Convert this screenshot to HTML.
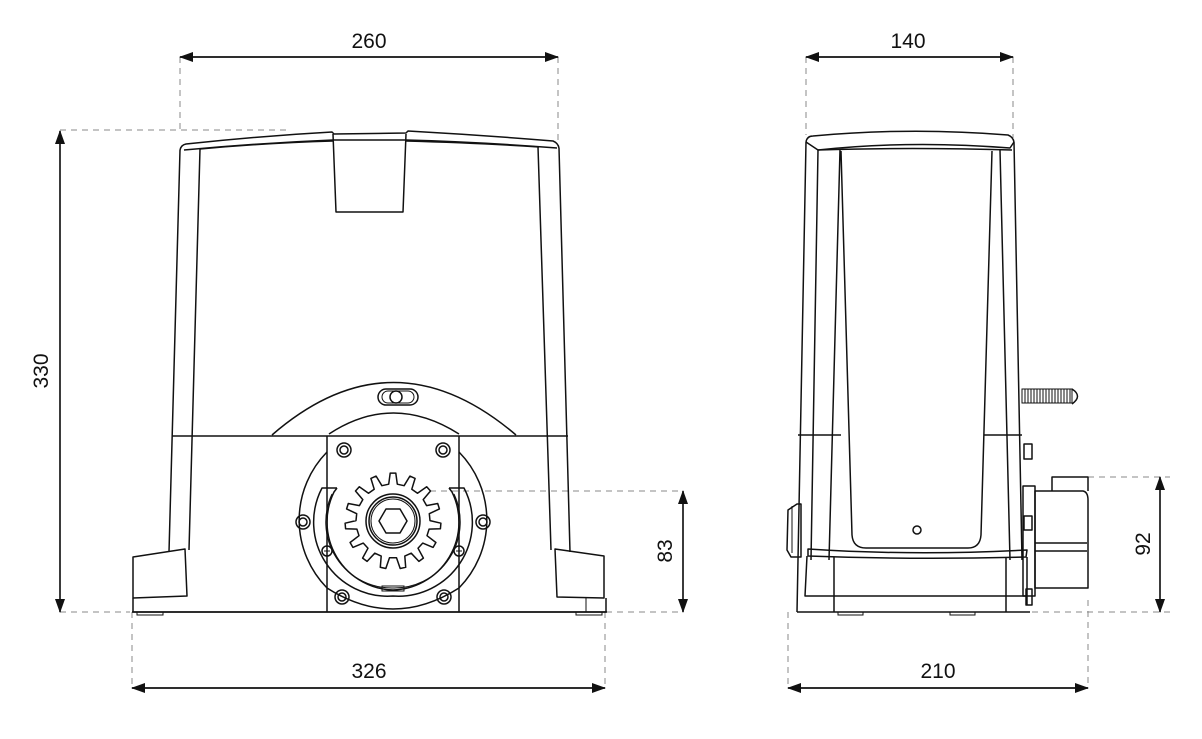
<!DOCTYPE html>
<html><head><meta charset="utf-8"><style>
html,body{margin:0;padding:0;background:#fff;}
svg{display:block}
text{font-family:"Liberation Sans",Arial,sans-serif;font-size:21px;fill:#111}
.l{fill:none;stroke:#111;stroke-width:1.5;stroke-linejoin:round}
.t{fill:none;stroke:#111;stroke-width:1}
.d{fill:none;stroke:#888;stroke-width:1;stroke-dasharray:6 5}
.a{stroke:#111;stroke-width:1.4;fill:none}
</style></head><body>
<svg width="1202" height="739" viewBox="0 0 1202 739" xmlns="http://www.w3.org/2000/svg">
<defs>
<marker id="ar" markerWidth="14" markerHeight="10" refX="13" refY="5" orient="auto" markerUnits="userSpaceOnUse">
<path d="M0,0 L14,5 L0,10 Z" fill="#111"/></marker>
</defs>

<!-- ===== Dimensions front ===== -->
<path class="d" d="M180,57V130 M558,57V145"/>
<path class="a" d="M558,57H180" marker-end="url(#ar)"/>
<path class="a" d="M180,57H558" marker-end="url(#ar)"/>
<text x="369" y="48" text-anchor="middle">260</text>

<path class="d" d="M60,130H290 M60,612H130"/>
<path class="a" d="M60,612V131" marker-end="url(#ar)"/>
<path class="a" d="M60,131V612" marker-end="url(#ar)"/>
<text transform="translate(48,371) rotate(-90)" text-anchor="middle">330</text>

<path class="d" d="M132,612V688 M605,612V688"/>
<path class="a" d="M605,688H132" marker-end="url(#ar)"/>
<path class="a" d="M132,688H605" marker-end="url(#ar)"/>
<text x="369" y="678" text-anchor="middle">326</text>

<path class="d" d="M430,491H683 M606,612H683"/>
<path class="a" d="M683,612V491" marker-end="url(#ar)"/>
<path class="a" d="M683,491V612" marker-end="url(#ar)"/>
<text transform="translate(672,551) rotate(-90)" text-anchor="middle">83</text>

<!-- ===== Dimensions side ===== -->
<path class="d" d="M806,57V135 M1013,57V138"/>
<path class="a" d="M1013,57H806" marker-end="url(#ar)"/>
<path class="a" d="M806,57H1013" marker-end="url(#ar)"/>
<text x="908" y="48" text-anchor="middle">140</text>

<path class="d" d="M788,612V688 M1088,600V688"/>
<path class="a" d="M1088,688H788" marker-end="url(#ar)"/>
<path class="a" d="M788,688H1088" marker-end="url(#ar)"/>
<text x="938" y="678" text-anchor="middle">210</text>

<path class="d" d="M1088,477H1170 M1032,612H1170"/>
<path class="a" d="M1160,612V477" marker-end="url(#ar)"/>
<path class="a" d="M1160,477V612" marker-end="url(#ar)"/>
<text transform="translate(1150,544) rotate(-90)" text-anchor="middle">92</text>

<!-- ===== Front view ===== -->
<path class="l" d="M180,150 Q181,145 186,144 Q260,136 332,132 L334,134 L406,133 L408,131 Q480,135 553,141 Q558,143 559,148"/>
<path class="l" d="M184,150 Q260,143 333,140 L406,140 Q480,142 557,148"/>
<path class="l" d="M200,149 Q265,143 333,141 M406,141 Q480,143 539,147"/>
<path class="l" d="M333,134 L336,212 L403,212 L406,134"/>
<path class="l" d="M180,150 L169,552 M200,149 L189,550 M559,148 L570,552 M538,147 L551,550"/>
<path class="l" d="M172,436 H568"/>
<path class="l" d="M272,435 Q393,330 516,435"/>
<path class="l" d="M329,434 Q393,392 459,434"/>
<rect class="l" x="378" y="389" width="40" height="16" rx="8"/>
<rect class="t" x="382" y="391" width="32" height="12" rx="6"/>
<circle class="l" cx="396" cy="397" r="6"/>
<path class="l" d="M327,436 V612 M459,436 V612"/>
<path class="l" d="M327,452 A97,97 0 0 0 327,588 M459,452 A97,97 0 0 1 459,588"/>
<path class="l" d="M327,588 Q360,609 393,609 Q426,609 459,588"/>
<path class="l" d="M337,488 H322 A74,74 0 0 0 393,596 A74,74 0 0 0 464,488 H449"/>
<path class="l" d="M337,488 L334,492 A68,68 0 0 0 393,590 A68,68 0 0 0 452,492 L449,488"/>
<path class="t" d="M332,494 A66,66 0 0 0 393,588 A66,66 0 0 0 454,494"/>
<rect class="t" x="382" y="586" width="22" height="5"/>
<g class="l">
<circle cx="344" cy="450" r="7"/><circle cx="344" cy="450" r="4"/>
<circle cx="443" cy="450" r="7"/><circle cx="443" cy="450" r="4"/>
<circle cx="303" cy="522" r="7"/><circle cx="303" cy="522" r="4"/>
<circle cx="483" cy="522" r="7"/><circle cx="483" cy="522" r="4"/>
<circle cx="342" cy="597" r="7"/><circle cx="342" cy="597" r="4"/>
<circle cx="444" cy="597" r="7"/><circle cx="444" cy="597" r="4"/>
<circle cx="327" cy="551" r="5"/><circle cx="459" cy="551" r="5"/>
</g>
<path class="t" d="M324,551h6M327,548v6M456,551h6M459,548v6"/>
<path id="gear" class="l" d=""/>
<circle class="l" cx="393" cy="521" r="27"/>
<circle class="l" cx="393" cy="521" r="24"/>
<circle class="t" cx="393" cy="521" r="22"/>
<polygon class="l" points="407,521 400,533 386,533 379,521 386,509 400,509"/>
<path class="l" d="M133,557 L185,549 L187,596 L133,598 Z"/>
<path class="l" d="M555,549 L604,556 L604,598 L557,597 Z"/>
<path class="l" d="M133,598 V612 H606 V598"/>
<path class="l" d="M132,612 H607"/>
<path class="t" d="M137,612 v3 h26 v-3 M576,612 v3 h26 v-3"/>
<path class="t" d="M586,598 v14"/>

<!-- ===== Side view ===== -->
<path class="l" d="M806,142 Q807,136 813,136 Q910,127 1008,135 Q1013,137 1014,142"/>
<path class="l" d="M806,142 L818,150 Q910,140 1010,148 L1014,142"/>
<path class="l" d="M818,150 Q910,147 1012,150"/>
<path class="l" d="M806,142 L797,612 M818,150 L811,560 M840,150 L829,560 M1000,150 L1010,560 M1014,142 L1022,560"/>
<path class="l" d="M841,151 L852,535 Q853,548 866,548 H968 Q980,548 981,535 L992,151"/>
<path class="l" d="M798,435 H841 M984,435 H1022"/>
<circle class="l" cx="917" cy="530" r="4"/>
<path class="l" d="M808,549 Q915,556 1027,550 L1026,557 Q915,560 808,556 Z"/>
<path class="l" d="M807,556 L805,596 H1027 M834,557 V612 M1006,557 V612 M1027,557 V605"/>
<path class="l" d="M797,612 H1030"/>
<path class="t" d="M838,612 v3 h25 v-3 M950,612 v3 h25 v-3"/>
<path class="l" d="M788,510 L797,504 H801 V557 H791 L787,550 Z"/>
<path class="t" d="M792,506 V553"/>
<rect class="t" x="1022" y="389" width="50" height="14"/>
<path class="t" d="M1025,389v14M1028,389v14M1031,389v14M1034,389v14M1037,389v14M1040,389v14M1043,389v14M1046,389v14M1049,389v14M1052,389v14M1055,389v14M1058,389v14M1061,389v14M1064,389v14M1067,389v14M1070,389v14"/>
<path class="l" d="M1072,389 Q1083,396 1072,404"/>
<rect class="l" x="1024" y="444" width="8" height="15"/>
<rect class="l" x="1024" y="516" width="8" height="14"/>
<rect class="l" x="1026" y="589" width="6" height="16"/>
<rect class="l" x="1023" y="486" width="12" height="110"/>
<path class="l" d="M1052,491 V477 H1088 V491"/>
<path class="l" d="M1035,491 H1083 Q1088,492 1088,500 V588 H1035 Z"/>
<path class="l" d="M1035,543 H1087 M1035,551 H1087"/>
</svg>
<script>
(function(){
var cx=393,cy=521,ro=48,rr=37,n=15,d="";
for(var i=0;i<n;i++){
 var a=i*2*Math.PI/n - Math.PI/2, s=Math.PI/n;
 var pts=[[rr,a-s*0.55],[ro,a-s*0.28],[ro,a+s*0.28],[rr,a+s*0.55]];
 pts.forEach(function(p,j){
  var x=cx+p[0]*Math.cos(p[1]),y=cy+p[0]*Math.sin(p[1]);
  d+=(i==0&&j==0?"M":"L")+x.toFixed(1)+","+y.toFixed(1);
 });
}
d+="Z";
document.getElementById("gear").setAttribute("d",d);
})();
</script>
</body></html>
